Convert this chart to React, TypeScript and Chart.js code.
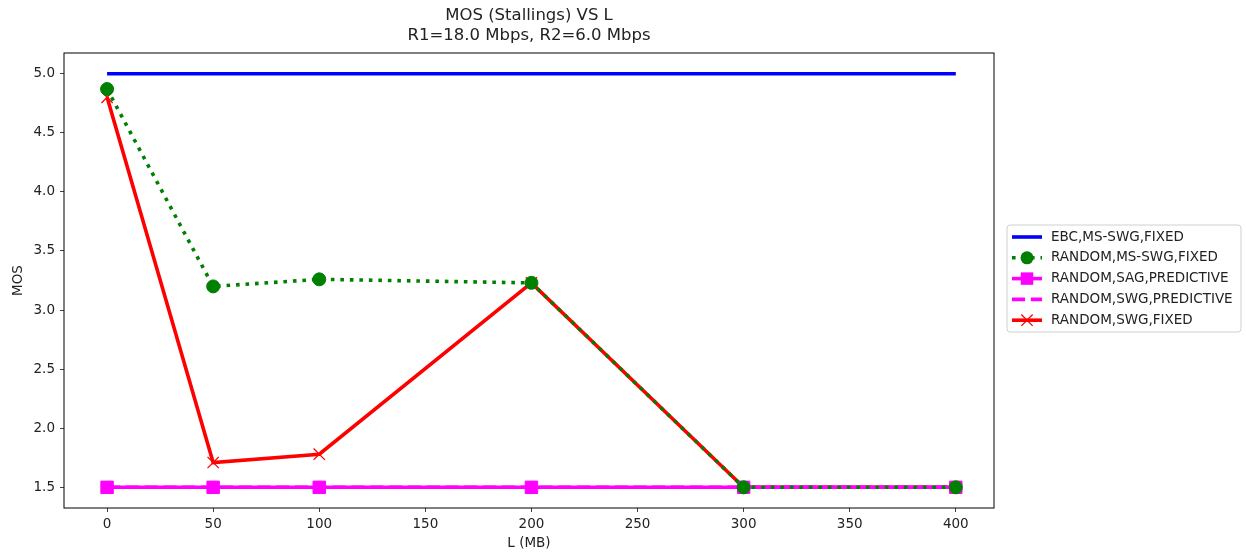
import React, { useEffect, useRef } from 'react';
import { Chart, registerables } from 'chart.js';

Chart.register(...registerables);

const xValues = [0, 50, 100, 200, 300, 400];
const ebcMsSwgFixed = [5.0, 5.0, 5.0, 5.0, 5.0, 5.0];
const randomMsSwgFixed = [4.87, 3.2, 3.26, 3.23, 1.5, 1.5];
const randomSagPredictive = [1.5, 1.5, 1.5, 1.5, 1.5, 1.5];
const randomSwgPredictive = [1.5, 1.5, 1.5, 1.5, 1.5, 1.5];
const randomSwgFixed = [4.8, 1.71, 1.78, 3.23, 1.5, 1.5];

const xTicks = [0, 50, 100, 150, 200, 250, 300, 350, 400];
const yTicks = [1.5, 2.0, 2.5, 3.0, 3.5, 4.0, 4.5, 5.0];

const seriesLabels = [
  'EBC,MS-SWG,FIXED',
  'RANDOM,MS-SWG,FIXED',
  'RANDOM,SAG,PREDICTIVE',
  'RANDOM,SWG,PREDICTIVE',
  'RANDOM,SWG,FIXED',
];
const titleLines = ['MOS (Stallings) VS L', 'R1=18.0 Mbps, R2=6.0 Mbps'];
const xTitle = 'L (MB)';
const yTitle = 'MOS';

const FONT = 'DejaVu Sans';
const TXT = '#222';
const SMALL = 13.5;
const LW = 3.6;

const toPts = (ys: number[]) => xValues.map((x, i) => ({ x, y: ys[i] }));

const framePlugin = {
  id: 'frameAndLegend',
  afterDraw(chart: any) {
    const { ctx, chartArea } = chart;
    ctx.save();
    ctx.strokeStyle = '#000';
    ctx.lineWidth = 1;
    ctx.strokeRect(chartArea.left, chartArea.top, chartArea.right - chartArea.left, chartArea.bottom - chartArea.top);

    // legend
    const lx = 1007, ly = 225, lw = 234, lh = 107;
    ctx.beginPath();
    const r = 3;
    ctx.moveTo(lx + r, ly);
    ctx.lineTo(lx + lw - r, ly);
    ctx.arcTo(lx + lw, ly, lx + lw, ly + r, r);
    ctx.lineTo(lx + lw, ly + lh - r);
    ctx.arcTo(lx + lw, ly + lh, lx + lw - r, ly + lh, r);
    ctx.lineTo(lx + r, ly + lh);
    ctx.arcTo(lx, ly + lh, lx, ly + lh - r, r);
    ctx.lineTo(lx, ly + r);
    ctx.arcTo(lx, ly, lx + r, ly, r);
    ctx.closePath();
    ctx.fillStyle = 'rgba(255,255,255,0.8)';
    ctx.fill();
    ctx.strokeStyle = '#d0d0d0';
    ctx.stroke();

    const x0 = 1012, x1 = 1042, xm = 1027;
    chart.data.datasets.forEach((ds: any, i: number) => {
      const y = 237 + i * 20.8;
      ctx.save();
      ctx.strokeStyle = ds.borderColor;
      ctx.lineWidth = ds.borderWidth;
      ctx.setLineDash(ds.borderDash || []);
      ctx.lineCap = 'butt';
      ctx.beginPath();
      ctx.moveTo(x0, y);
      ctx.lineTo(x1, y);
      ctx.stroke();
      ctx.setLineDash([]);
      ctx.fillStyle = ds.pointBackgroundColor;
      ctx.strokeStyle = ds.pointBorderColor;
      if (ds.pointRadius > 0) {
        if (ds.pointStyle === 'circle') {
          ctx.beginPath();
          ctx.arc(xm, y, ds.pointRadius, 0, Math.PI * 2);
          ctx.fill();
        } else if (ds.pointStyle === 'rect') {
          const s = ds.pointRadius * Math.SQRT1_2;
          ctx.fillRect(xm - s, y - s, 2 * s, 2 * s);
        } else if (ds.pointStyle === 'crossRot') {
          const s = ds.pointRadius * Math.SQRT1_2;
          ctx.lineWidth = ds.pointBorderWidth;
          ctx.beginPath();
          ctx.moveTo(xm - s, y - s);
          ctx.lineTo(xm + s, y + s);
          ctx.moveTo(xm - s, y + s);
          ctx.lineTo(xm + s, y - s);
          ctx.stroke();
        }
      }
      ctx.restore();
      ctx.fillStyle = TXT;
      ctx.font = `${SMALL}px "${FONT}"`;
      ctx.textBaseline = 'middle';
      ctx.textAlign = 'left';
      ctx.fillText(seriesLabels[i], 1051, y);
    });
    ctx.restore();
  },
};

export default function App() {
  const ref = useRef<HTMLCanvasElement | null>(null);

  useEffect(() => {
    if (!ref.current) return;
    const tickFont = { family: FONT, size: SMALL };
    const chart = new Chart(ref.current, {
      type: 'line',
      data: {
        datasets: [
          {
            label: seriesLabels[0],
            data: toPts(ebcMsSwgFixed),
            borderColor: '#0000ff',
            backgroundColor: '#0000ff',
            borderWidth: LW,
            pointRadius: 0,
            pointBackgroundColor: '#0000ff',
            pointBorderColor: '#0000ff',
            order: 4,
          },
          {
            label: seriesLabels[1],
            data: toPts(randomMsSwgFixed),
            borderColor: '#008000',
            backgroundColor: '#008000',
            borderWidth: LW,
            borderDash: [3.6, 5.9],
            borderCapStyle: 'butt',
            pointStyle: 'circle',
            pointRadius: 6.5,
            pointBorderWidth: 1,
            pointBackgroundColor: '#008000',
            pointBorderColor: '#008000',
            order: 0,
          },
          {
            label: seriesLabels[2],
            data: toPts(randomSagPredictive),
            borderColor: '#ff00ff',
            backgroundColor: '#ff00ff',
            borderWidth: LW,
            pointStyle: 'rect',
            pointRadius: 8.8,
            pointBorderWidth: 1,
            pointBackgroundColor: '#ff00ff',
            pointBorderColor: '#ff00ff',
            order: 2,
          },
          {
            label: seriesLabels[3],
            data: toPts(randomSwgPredictive),
            borderColor: '#ff00ff',
            backgroundColor: '#ff00ff',
            borderWidth: LW,
            borderDash: [13, 5.8],
            pointRadius: 0,
            pointBackgroundColor: '#ff00ff',
            pointBorderColor: '#ff00ff',
            order: 1,
          },
          {
            label: seriesLabels[4],
            data: toPts(randomSwgFixed),
            borderColor: '#ff0000',
            backgroundColor: '#ff0000',
            borderWidth: LW,
            pointStyle: 'crossRot',
            pointRadius: 8,
            pointBorderWidth: 1.3,
            pointBackgroundColor: '#ff0000',
            pointBorderColor: '#ff0000',
            order: 3,
          },
        ],
      } as any,
      options: {
        responsive: false,
        animation: false,
        layout: { padding: { left: 0, right: 252, top: 0, bottom: 0 } },
        plugins: {
          legend: { display: false },
          tooltip: { enabled: false },
          title: {
            display: true,
            text: titleLines,
            fullSize: false,
            color: TXT,
            font: { family: FONT, size: 16.5, weight: 'normal', lineHeight: 20 / 16.5 },
            padding: { top: 6, bottom: 7 },
          },
        },
        scales: {
          x: {
            type: 'linear',
            min: -20.3,
            max: 418,
            afterBuildTicks: (s: any) => {
              s.ticks = xTicks.map((v) => ({ value: v }));
            },
            afterFit: (s: any) => {
              s.height = 45;
            },
            ticks: {
              autoSkip: false,
              maxRotation: 0,
              font: tickFont,
              color: TXT,
              padding: 4,
              callback: (v: any) => String(v),
            },
            grid: { drawOnChartArea: false, drawTicks: true, tickLength: 4, tickColor: '#444' },
            border: { display: false },
            title: { display: true, text: xTitle, color: TXT, font: tickFont, padding: { top: 0, bottom: 1 } },
          },
          y: {
            type: 'linear',
            min: 1.325,
            max: 5.175,
            afterBuildTicks: (s: any) => {
              s.ticks = yTicks.map((v) => ({ value: v }));
            },
            afterFit: (s: any) => {
              s.width = 64;
            },
            ticks: {
              autoSkip: false,
              font: tickFont,
              color: TXT,
              padding: 5,
              callback: (v: any) => Number(v).toFixed(1),
            },
            grid: { drawOnChartArea: false, drawTicks: true, tickLength: 4, tickColor: '#444' },
            border: { display: false },
            title: { display: true, text: yTitle, color: TXT, font: tickFont, padding: { top: 10, bottom: 0 } },
          },
        },
      } as any,
      plugins: [framePlugin],
    });
    return () => chart.destroy();
  }, []);

  return (
    <div style={{ position: 'fixed', left: 0, top: 0, width: 1246, height: 553, background: '#fff' }}>
      <canvas ref={ref} width={1246} height={553} style={{ display: 'block' }} />
    </div>
  );
}
